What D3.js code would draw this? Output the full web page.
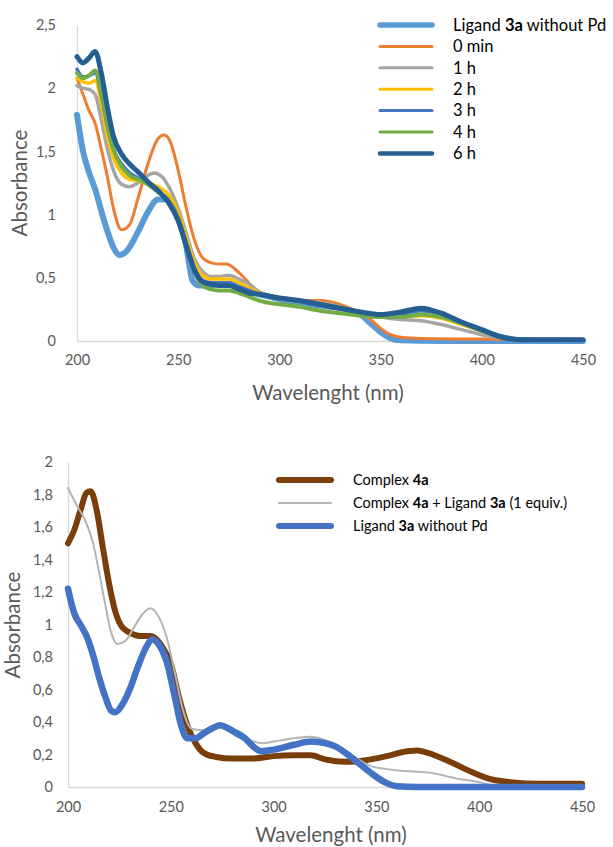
<!DOCTYPE html>
<html><head><meta charset="utf-8">
<script src="https://cdn.jsdelivr.net/npm/d3@7/dist/d3.min.js"></script>
<style>
body{margin:0;background:#fff;}
svg{display:block;font-family:Lato,"Open Sans",sans-serif;}
</style></head>
<body><svg id="c" width="613" height="847"></svg>
<script>
// ---------- DATA: top chart (wavelength nm, absorbance) ----------
const xTicks = [200, 250, 300, 350, 400, 450];
const yTicksTop = [0, 0.5, 1, 1.5, 2, 2.5];
const yTicksBottom = [0, 0.2, 0.4, 0.6, 0.8, 1, 1.2, 1.4, 1.6, 1.8, 2];

const ligandTop = [[200,1.79],[203,1.50],[206,1.33],[209,1.20],[212,1.03],[215,0.87],[218,0.74],[221,0.68],[225,0.72],[230,0.86],[235,1.02],[240,1.12],[245,1.12],[250,1.00],[253,0.85],[255,0.65],[257,0.48],[260,0.44],[265,0.44],[270,0.45],[275,0.45],[280,0.42],[285,0.39],[290,0.37],[300,0.33],[310,0.30],[320,0.28],[330,0.26],[340,0.21],[345,0.14],[350,0.07],[355,0.02],[360,0.005],[380,0],[450,0]];
const min0 = [[200,2.08],[203,1.95],[206,1.82],[209,1.72],[212,1.52],[215,1.30],[218,1.05],[222,0.88],[226,0.92],[230,1.12],[235,1.40],[240,1.60],[243,1.63],[246,1.58],[250,1.35],[254,1.05],[258,0.80],[262,0.66],[266,0.62],[270,0.61],[274,0.61],[278,0.57],[282,0.51],[286,0.44],[290,0.38],[295,0.35],[300,0.34],[310,0.32],[320,0.32],[330,0.29],[340,0.22],[345,0.17],[350,0.10],[355,0.05],[360,0.03],[370,0.02],[400,0.015],[420,0.01],[450,0.01]];
const h1 = [[200,2.02],[203,2.00],[206,1.99],[209,1.95],[212,1.75],[215,1.52],[218,1.35],[222,1.24],[226,1.22],[230,1.25],[235,1.31],[238,1.33],[242,1.30],[246,1.20],[250,1.05],[254,0.85],[258,0.65],[262,0.55],[266,0.51],[270,0.51],[275,0.52],[280,0.49],[285,0.45],[290,0.39],[300,0.34],[310,0.32],[320,0.30],[330,0.27],[340,0.22],[350,0.19],[360,0.17],[370,0.16],[380,0.13],[390,0.09],[400,0.05],[410,0.02],[420,0.01],[450,0.01]];
const h2 = [[200,2.08],[203,2.05],[206,2.04],[209,2.06],[212,1.88],[215,1.62],[218,1.45],[222,1.33],[226,1.28],[230,1.27],[235,1.25],[240,1.22],[245,1.16],[250,1.02],[254,0.82],[258,0.62],[262,0.52],[266,0.49],[270,0.49],[275,0.49],[280,0.46],[285,0.42],[290,0.38],[300,0.34],[310,0.31],[320,0.29],[330,0.26],[340,0.22],[350,0.20],[360,0.19],[370,0.20],[380,0.18],[390,0.13],[400,0.08],[410,0.03],[420,0.01],[450,0.01]];
const h3 = [[200,2.15],[203,2.09],[206,2.10],[209,2.12],[212,1.95],[215,1.70],[218,1.52],[222,1.40],[226,1.33],[230,1.29],[235,1.24],[240,1.18],[245,1.12],[250,0.98],[254,0.78],[258,0.58],[262,0.48],[266,0.46],[270,0.46],[275,0.46],[280,0.43],[285,0.40],[290,0.37],[300,0.34],[310,0.31],[320,0.28],[330,0.25],[340,0.22],[350,0.20],[360,0.21],[370,0.24],[380,0.21],[390,0.15],[400,0.09],[410,0.04],[420,0.015],[450,0.01]];
const h4 = [[200,2.12],[203,2.08],[206,2.10],[209,2.14],[212,1.98],[215,1.72],[218,1.52],[222,1.38],[226,1.31],[230,1.28],[235,1.24],[240,1.18],[245,1.11],[250,0.97],[254,0.75],[258,0.55],[262,0.44],[266,0.41],[270,0.40],[275,0.40],[280,0.38],[285,0.35],[290,0.32],[300,0.29],[310,0.27],[320,0.24],[330,0.22],[340,0.20],[350,0.19],[360,0.19],[370,0.21],[380,0.19],[390,0.14],[400,0.08],[410,0.03],[420,0.01],[450,0.01]];
const h6 = [[200,2.25],[203,2.20],[206,2.24],[209,2.29],[212,2.12],[215,1.85],[218,1.62],[222,1.48],[226,1.40],[230,1.34],[235,1.26],[240,1.19],[245,1.10],[250,0.95],[254,0.75],[258,0.56],[262,0.47],[266,0.45],[270,0.44],[275,0.44],[280,0.41],[285,0.38],[290,0.37],[300,0.34],[310,0.32],[320,0.29],[330,0.26],[340,0.23],[350,0.21],[360,0.23],[370,0.26],[380,0.22],[390,0.15],[400,0.09],[410,0.03],[420,0.01],[450,0.01]];

// ---------- DATA: bottom chart ----------
const complex4a = [[200,1.50],[203,1.58],[206,1.70],[209,1.81],[211,1.82],[214,1.70],[217,1.47],[220,1.25],[223,1.08],[226,0.99],[230,0.95],[235,0.93],[240,0.93],[243,0.91],[246,0.86],[250,0.76],[254,0.55],[258,0.38],[262,0.27],[266,0.21],[272,0.185],[280,0.175],[290,0.175],[300,0.19],[310,0.195],[318,0.195],[325,0.17],[335,0.155],[345,0.165],[355,0.19],[365,0.22],[370,0.225],[375,0.21],[385,0.16],[395,0.10],[405,0.05],[415,0.03],[430,0.02],[450,0.02]];
const complexPlusLigand = [[200,1.84],[204,1.74],[208,1.65],[212,1.51],[215,1.33],[218,1.13],[221,0.95],[224,0.88],[228,0.90],[232,0.98],[236,1.06],[240,1.10],[244,1.05],[248,0.92],[252,0.70],[256,0.47],[260,0.36],[265,0.35],[270,0.37],[275,0.39],[280,0.36],[285,0.33],[290,0.28],[295,0.27],[300,0.28],[310,0.30],[318,0.31],[325,0.29],[332,0.25],[340,0.18],[347,0.13],[355,0.11],[362,0.10],[375,0.09],[390,0.05],[400,0.03],[407,0.01],[420,0.01],[450,0.01]];
const ligandBottom = [[200,1.22],[203,1.07],[206,1.00],[209,0.93],[212,0.82],[215,0.68],[218,0.56],[221,0.47],[223,0.46],[226,0.50],[230,0.60],[234,0.74],[238,0.86],[241,0.91],[244,0.88],[248,0.77],[252,0.55],[255,0.38],[258,0.30],[262,0.30],[266,0.33],[270,0.36],[274,0.38],[278,0.36],[282,0.33],[286,0.30],[290,0.25],[294,0.22],[300,0.23],[310,0.26],[318,0.28],[325,0.27],[330,0.25],[336,0.20],[342,0.14],[348,0.08],[354,0.03],[360,0.005],[370,0],[450,0]];

// legend labels: [text, bold?]
const topSeries = [
  {name:[["Ligand ",0],["3a",1],[" without Pd",0]], data:ligandTop, color:"#5B9BD5", w:6, lw:5.5},
  {name:[["0 min",0]], data:min0, color:"#ED7D31", w:3, lw:3},
  {name:[["1 h",0]], data:h1, color:"#A5A5A5", w:3.5, lw:3},
  {name:[["2 h",0]], data:h2, color:"#FFC000", w:3.5, lw:3},
  {name:[["3 h",0]], data:h3, color:"#4472C4", w:3.5, lw:3},
  {name:[["4 h",0]], data:h4, color:"#70AD47", w:4, lw:3},
  {name:[["6 h",0]], data:h6, color:"#255E91", w:5, lw:4.5}
];
const bottomSeries = [
  {name:[["Complex ",0],["4a",1]], data:complex4a, color:"#7A3E0B", w:6, lw:6},
  {name:[["Complex ",0],["4a",1],[" + Ligand ",0],["3a",1],[" (1 equiv.)",0]], data:complexPlusLigand, color:"#B4B4B4", w:2, lw:2},
  {name:[["Ligand ",0],["3a",1],[" without Pd",0]], data:ligandBottom, color:"#4472C4", w:6.5, lw:6}
];

const svg = d3.select("#c");
const fmt = v => String(v).replace(".", ",");

function drawChart(cfg) {
  const g = svg.append("g");
  const x = d3.scaleLinear().domain([200, 450]).range([cfg.x0, cfg.x1]);
  const y = d3.scaleLinear().domain([0, cfg.ymax]).range([cfg.y0, cfg.y1]);

  const xa = g.append("g").attr("transform", `translate(0,${cfg.y0})`)
    .call(d3.axisBottom(x).tickValues(xTicks).tickSize(0).tickPadding(cfg.xPad));
  xa.select(".domain").attr("stroke", "#D9D9D9").attr("stroke-width", 1.3);
  xa.selectAll("text").attr("fill", "#595959").attr("font-size", cfg.tickFs).attr("font-family", "Lato, sans-serif");

  const ya = g.append("g").attr("transform", `translate(${cfg.x0},0)`)
    .call(d3.axisLeft(y).tickValues(cfg.yTicks).tickSize(0).tickPadding(cfg.yPad).tickFormat(fmt));
  ya.select(".domain").attr("stroke", "#D9D9D9").attr("stroke-width", 1.3);
  ya.selectAll("text").attr("fill", "#595959").attr("font-size", cfg.tickFs).attr("font-family", "Lato, sans-serif");

  const line = d3.line().x(d => x(d[0])).y(d => y(d[1])).curve(d3.curveMonotoneX);
  cfg.series.forEach(s => {
    g.append("path").attr("d", line(s.data)).attr("fill", "none")
      .attr("stroke", s.color).attr("stroke-width", s.w)
      .attr("stroke-linejoin", "round").attr("stroke-linecap", "round");
  });

  g.append("text").attr("x", cfg.xtX).attr("y", cfg.xtY).attr("text-anchor", "middle")
    .attr("fill", "#595959").attr("font-size", cfg.titleFs).text("Wavelenght (nm)");
  g.append("text").attr("transform", `translate(${cfg.ytX},${cfg.ytY}) rotate(-90)`)
    .attr("text-anchor", "middle").attr("fill", "#595959").attr("font-size", cfg.titleFs).text("Absorbance");

  cfg.series.forEach((s, i) => {
    const ly = cfg.legY + i * cfg.legDy;
    g.append("line").attr("x1", cfg.legX1).attr("x2", cfg.legX2).attr("y1", ly).attr("y2", ly)
      .attr("stroke", s.color).attr("stroke-width", s.lw).attr("stroke-linecap", "round");
    const t = g.append("text").attr("x", cfg.legTx).attr("y", ly).attr("dy", "0.35em")
      .attr("fill", "#000").attr("font-size", cfg.legFs);
    s.name.forEach(p => t.append("tspan").attr("font-weight", p[1] ? "bold" : "normal").text(p[0]));
  });
}

drawChart({
  x0: 77, x1: 583, y0: 341, y1: 25, ymax: 2.5, yTicks: yTicksTop, series: topSeries,
  xPad: 14, yPad: 21, tickFs: 14.5, titleFs: 20.5,
  xtX: 328, xtY: 400, ytX: 27, ytY: 183,
  legX1: 380, legX2: 432, legTx: 453, legY: 25, legDy: 21.4, legFs: 16.5
});
drawChart({
  x0: 68, x1: 582, y0: 787, y1: 462, ymax: 2, yTicks: yTicksBottom, series: bottomSeries,
  xPad: 15, yPad: 15, tickFs: 14.5, titleFs: 20.5,
  xtX: 331, xtY: 842, ytX: 20, ytY: 625,
  legX1: 279, legX2: 331, legTx: 353, legY: 480, legDy: 23, legFs: 14.5
});
</script></body></html>
